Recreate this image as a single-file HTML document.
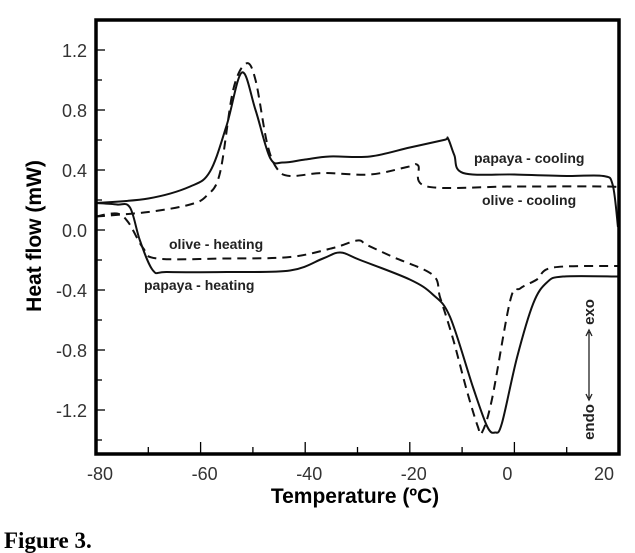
<!DOCTYPE html>
<html><head><meta charset="utf-8">
<style>
html,body{margin:0;padding:0;background:#fff;}
svg{display:block;}
text{font-family:"Liberation Sans",Arial,sans-serif;}
</style></head>
<body>
<svg id="chart" width="635" height="553" viewBox="0 0 635 553">
<g id="marks"></g>
<g id="axes"></g>
<text x="4" y="548" font-weight="bold" font-size="23" style="font-family:'Liberation Serif',serif">Figure 3.</text>
</svg>
<script>
const xTicks=[-80,-60,-40,-20,0,20];
const yTicks=[1.2,0.8,0.4,0.0,-0.4,-0.8,-1.2];
const yTickLabels=["1.2","0.8","0.4","0.0","-0.4","-0.8","-1.2"];
const papayaCoolT=[-80,-70,-62,-58.2,-55,-52.1,-49.5,-46.7,-44.2,-40,-35.3,-27.6,-20,-13.5,-12.7,-11.5,-9.8,0,10,17,18.8,19.8];
const papayaCoolV=[0.18,0.21,0.29,0.39,0.7,1.05,0.8,0.48,0.45,0.47,0.49,0.49,0.55,0.6,0.61,0.5,0.38,0.37,0.36,0.36,0.3,0.02];
const oliveCoolT=[-80,-70,-62,-58.8,-56.3,-53.8,-51.3,-49.5,-47.3,-45.4,-42.9,-36.6,-27.6,-20.5,-18.4,-16.7,0,17.7,20];
const oliveCoolV=[0.09,0.12,0.17,0.23,0.38,0.93,1.11,1.0,0.58,0.41,0.36,0.38,0.37,0.42,0.43,0.29,0.29,0.29,0.28];
const papayaHeatT=[-80,-76,-73.5,-71.6,-69.1,-66.4,-55,-42.9,-36.6,-33.3,-29.5,-20,-15.6,-12.3,-7.9,-5.2,-3.7,-2.4,0.5,3.6,6.2,9.3,20];
const papayaHeatV=[0.18,0.17,0.15,-0.07,-0.27,-0.28,-0.28,-0.27,-0.19,-0.15,-0.2,-0.33,-0.43,-0.58,-1.05,-1.31,-1.35,-1.29,-0.85,-0.49,-0.35,-0.31,-0.31];
const oliveHeatT=[-80,-76,-73.8,-71,-68.3,-55,-42.9,-34.7,-30,-28.2,-23.2,-15.6,-14.2,-11.7,-9.1,-7,-6.2,-4.3,-0.8,1.1,4.3,7.4,20];
const oliveHeatV=[0.09,0.11,0.05,-0.12,-0.19,-0.19,-0.18,-0.12,-0.07,-0.1,-0.18,-0.3,-0.45,-0.73,-1.07,-1.31,-1.35,-1.13,-0.47,-0.39,-0.33,-0.25,-0.24];

const L=96,R=619,T=20,B=454;
function xs(t){return L+(t+80)*(R-L)/100;}
function ys(v){return 230-150*v;}
const NS="http://www.w3.org/2000/svg";
const marks=document.getElementById('marks'), axes=document.getElementById('axes');
function mk(tag,attrs,parent){const e=document.createElementNS(NS,tag);for(const k in attrs)e.setAttribute(k,attrs[k]);parent.appendChild(e);return e;}
function pathFrom(T_,V_){
  const p=T_.map((t,i)=>[xs(t),ys(V_[i])]);
  let d=`M${p[0][0]},${p[0][1]}`;
  for(let i=0;i<p.length-1;i++){
    const p0=p[Math.max(0,i-1)],p1=p[i],p2=p[i+1],p3=p[Math.min(p.length-1,i+2)];
    const c1=[p1[0]+(p2[0]-p0[0])/6,p1[1]+(p2[1]-p0[1])/6];
    const c2=[p2[0]-(p3[0]-p1[0])/6,p2[1]-(p3[1]-p1[1])/6];
    d+=` C${c1[0]},${c1[1]} ${c2[0]},${c2[1]} ${p2[0]},${p2[1]}`;
  }
  return d;
}
const series=[
 ['papaya-cooling-line',papayaCoolT,papayaCoolV,null],
 ['olive-cooling-line',oliveCoolT,oliveCoolV,'9,6'],
 ['papaya-heating-line',papayaHeatT,papayaHeatV,null],
 ['olive-heating-line',oliveHeatT,oliveHeatV,'9,6']];
series.forEach(s=>{
  const el=mk('path',{d:pathFrom(s[1],s[2]),fill:'none',stroke:'#111','stroke-width':2},marks);
  if(s[3])el.setAttribute('stroke-dasharray',s[3]);
  
  
});
const fr=mk('rect',{x:L,y:T,width:R-L,height:B-T,fill:'none',stroke:'#000','stroke-width':3.5},axes);


for(let t=-80;t<=20;t+=10){
  const major=t%20===0;
  mk('line',{x1:xs(t),x2:xs(t),y1:B,y2:B-(major?12:7),stroke:'#000','stroke-width':1.3},axes);
}
xTicks.forEach(t=>{
  const e=mk('text',{x:xs(t)+(t===0?-7:(t===20?-15:4)),y:B+26,'text-anchor':'middle','font-size':18,fill:'#333'},axes);
  e.textContent=String(t);
  
  
});
for(let v=1.4;v>=-1.41;v-=0.2){
  const major=Math.abs(Math.round(v*10))%4===0;
  mk('line',{x1:L,x2:L+(major?9:6),y1:ys(v),y2:ys(v),stroke:'#000','stroke-width':1.3},axes);
}
yTicks.forEach((v,i)=>{
  const e=mk('text',{x:87,y:ys(v)+7,'text-anchor':'end','font-size':18,fill:'#333'},axes);
  e.textContent=yTickLabels[i];
  
  
});
function label(txt,x,y,name,extra){
  const e=mk('text',Object.assign({x:x,y:y,'font-size':14,'font-weight':'bold',fill:'#222'},extra||{}),axes);
  e.textContent=txt;
  
  
  return e;
}
label('papaya - cooling',474,163,'papaya-cooling-label');
label('olive - cooling',482,205,'olive-cooling-label');
label('olive - heating',169,249,'olive-heating-label');
label('papaya - heating',144,290,'papaya-heating-label');
label('Temperature (ºC)',355,503,'x-axis-title',{'font-size':21,'text-anchor':'middle',fill:'#000'});
label('Heat flow (mW)',0,0,'y-axis-title',{'font-size':21,'text-anchor':'middle',fill:'#000',transform:'translate(41,236) rotate(-90)'});
label('endo',0,0,'endo-label',{'font-size':15,'text-anchor':'middle',transform:'translate(594,422) rotate(-90)'});
label('exo',0,0,'exo-label',{'font-size':15,'text-anchor':'middle',transform:'translate(594,312) rotate(-90)'});
const arr=mk('path',{d:'M589,332 L589,398 M586,336 L589,330 L592,336 M586,394 L589,400 L592,394',stroke:'#222','stroke-width':1.3,fill:'none'},axes);


</script>
</body></html>
